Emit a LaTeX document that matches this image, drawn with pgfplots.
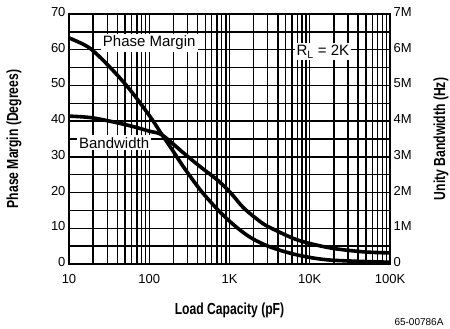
\documentclass[border=0pt]{standalone}
\usepackage{fontspec}
\setmainfont{Liberation Sans}
\newfontfamily\condbf{Liberation Sans}[FakeStretch=0.76]
\usepackage{pgfplots}
\usepackage{pgfplotstable}
\pgfplotsset{compat=1.18}

% Phase margin (degrees) against load capacity (pF)
\pgfplotstableread{
C      PM
10     63.3
18     60.5
33     54.9
58     48.7
103    41.2
145    36.1
183    32.8
267    27.2
434    20.7
708    15.3
1122   11.0
1835   7.4
3270   4.7
7100   2.5
18000  1.1
100000 0.5
}\phasemargin

% Unity bandwidth (MHz) against load capacity (pF)
\pgfplotstableread{
C      BW
10     4.14
20     4.09
53     3.89
100    3.72
145    3.61
267    3.11
434    2.72
708    2.35
1027   2.00
1500   1.57
2436   1.18
3270   1.01
7100   0.67
18000  0.45
47000  0.34
100000 0.31
}\bandwidth

\begin{document}
\begin{tikzpicture}
\useasboundingbox (-69pt,-65pt) rectangle (381pt,264pt);
\pgfplotsset{
  every axis/.append style={
    xmode=log, scale only axis, width=321pt, height=250pt,
    xmin=10, xmax=100000,
    tick style={draw=none},
    axis line style={line width=1.5pt},
    tick label style={font=\fontsize{13}{13}\selectfont},
    /pgf/number format/assume math mode=true,
  }
}
\begin{axis}[
  name=main,
  ymin=0, ymax=70,
  ytick={0,5,...,70},
  yticklabels={0,,10,,20,,30,,40,,50,,60,,70},
  xtick={10,100,1000,10000,100000},
  xticklabels={10,100,1K,10K,100K},
  grid=both, grid style={black, line width=1.4pt},
  minor grid style={black, line width=1.4pt},
  xticklabel style={yshift=-7pt},
  yticklabel style={yshift=2pt},
]
% half-step rulings of the chart paper
\pgfplotsinvokeforeach{5,15,25,35,45,55,65}{
  \draw[black, line width=1.4pt] (axis cs:10,#1) -- (axis cs:100000,#1);
}
\addplot[black, line width=3.6pt, smooth] table[x=C, y=PM] {\phasemargin};
\node[fill=white, inner sep=2pt, font=\fontsize{15}{15}\selectfont] at (axis cs:100,62) {Phase Margin};
\node[fill=white, inner sep=2pt, font=\fontsize{15}{15}\selectfont] at (axis cs:36.5,33.9) {Bandwidth};
\node[fill=white, inner sep=2pt, font=\fontsize{15}{15}\selectfont] at (axis cs:14600,59.4) {R$_\mathrm{L}$ = 2K};
\end{axis}
\begin{axis}[
  ymin=0, ymax=7,
  ytick={0,1,...,7},
  yticklabels={0,1M,2M,3M,4M,5M,6M,7M},
  yticklabel pos=right, hide x axis,
  yticklabel style={yshift=2pt},
]
\addplot[black, line width=3.6pt, smooth] table[x=C, y=BW] {\bandwidth};
\end{axis}
% axis titles and drawing number
\begin{scope}[every node/.style={font=\condbf\bfseries\fontsize{16}{16}\selectfont}]
\node at ([yshift=-46pt]main.south) {Load Capacity (pF)};
\node[rotate=90] at ([xshift=-55pt]main.west) {Phase Margin (Degrees)};
\node[rotate=90] at ([xshift=51pt]main.east) {Unity Bandwidth (Hz)};
\end{scope}
\node[anchor=east, font=\fontsize{10}{10}\selectfont] at ([xshift=57pt,yshift=-58pt]main.south east) {65-00786A};
\end{tikzpicture}
\end{document}
